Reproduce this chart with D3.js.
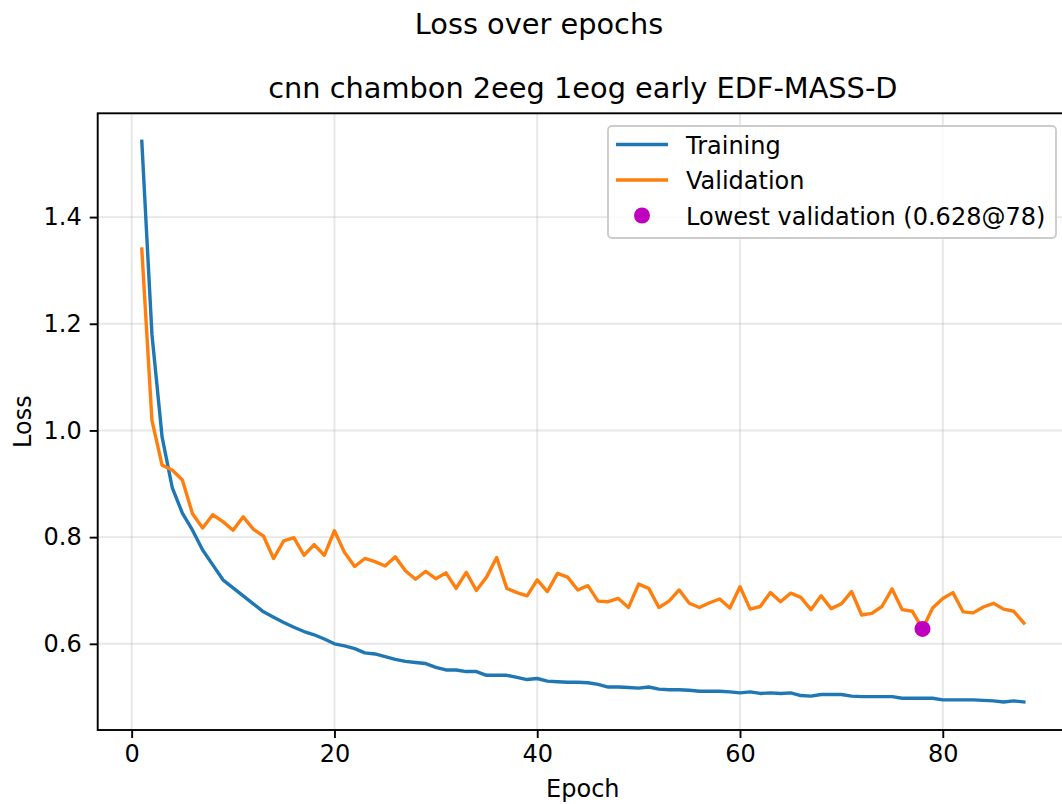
<!DOCTYPE html>
<html>
<head>
<meta charset="utf-8">
<script src="https://cdn.jsdelivr.net/npm/d3@7"></script>
<style>
  body { margin: 0; background: #fff; }
  svg { display: block; font-family: "DejaVu Sans", sans-serif; }
</style>
</head>
<body>
<svg id="chart" width="1062" height="804"></svg>
<script>
// loss per epoch
const training = [1.542, 1.180, 0.988, 0.893, 0.845, 0.813, 0.776, 0.748, 0.720, 0.705,
  0.690, 0.675, 0.660, 0.650, 0.640, 0.631, 0.623, 0.617, 0.609, 0.600,
  0.596, 0.591, 0.583, 0.581, 0.576, 0.571, 0.567, 0.565, 0.563, 0.556,
  0.551, 0.551, 0.548, 0.548, 0.541, 0.541, 0.541, 0.537, 0.533, 0.535,
  0.530, 0.529, 0.528, 0.528, 0.527, 0.524, 0.519, 0.519, 0.518, 0.517,
  0.519, 0.515, 0.514, 0.514, 0.513, 0.511, 0.511, 0.511, 0.510, 0.508,
  0.510, 0.507, 0.508, 0.507, 0.508, 0.503, 0.502, 0.505, 0.505, 0.505,
  0.502, 0.501, 0.501, 0.501, 0.501, 0.498, 0.498, 0.498, 0.498, 0.495,
  0.495, 0.495, 0.495, 0.494, 0.493, 0.491, 0.493, 0.491];

const validation = [1.340, 1.019, 0.935, 0.926, 0.907, 0.844, 0.817, 0.842, 0.829, 0.813,
  0.838, 0.815, 0.802, 0.760, 0.793, 0.799, 0.766, 0.786, 0.766, 0.812,
  0.771, 0.745, 0.760, 0.754, 0.746, 0.763, 0.737, 0.721, 0.736, 0.722,
  0.733, 0.704, 0.734, 0.700, 0.725, 0.762, 0.704, 0.696, 0.690, 0.720,
  0.698, 0.732, 0.725, 0.701, 0.709, 0.680, 0.679, 0.685, 0.668, 0.712,
  0.704, 0.668, 0.680, 0.701, 0.676, 0.668, 0.677, 0.684, 0.667, 0.707,
  0.665, 0.670, 0.696, 0.679, 0.695, 0.687, 0.664, 0.690, 0.666, 0.675,
  0.698, 0.654, 0.657, 0.670, 0.703, 0.664, 0.661, 0.628, 0.667, 0.685,
  0.696, 0.660, 0.658, 0.669, 0.676, 0.665, 0.661, 0.639];

const epochs = training.map((d, i) => i + 1);
const xTicks = [0, 20, 40, 60, 80];
const yTicks = [0.6, 0.8, 1.0, 1.2, 1.4];
const legendLabels = ["Training", "Validation", "Lowest validation"];

const svg = d3.select("#chart");

let plotLeft = 97.7;
let plotRight = 1068;
let plotTop = 113.3;
let plotBottom = 730;

let fontSmall = "24px";
let fontBig = "28.8px";

// matplotlib style 5% margins
const xExt = d3.extent(epochs);
const xPad = (xExt[1] - xExt[0]) * 0.05;
const xScale = d3.scaleLinear().domain([xExt[0] - xPad, xExt[1] + xPad]).range([plotLeft, plotRight]);

const yExt = d3.extent(training.concat(validation));
const yPad = (yExt[1] - yExt[0]) * 0.05;
const yScale = d3.scaleLinear().domain([yExt[0] - yPad, yExt[1] + yPad]).range([plotBottom, plotTop]);

svg.append("clipPath").attr("id", "clip")
  .append("rect").attr("x", plotLeft).attr("y", plotTop)
  .attr("width", plotRight - plotLeft).attr("height", plotBottom - plotTop);

//grid
const grid = svg.append("g").attr("clip-path", "url(#clip)");
grid.selectAll(".gx").data(xTicks).enter().append("line")
  .attr("x1", d => xScale(d)).attr("x2", d => xScale(d))
  .attr("y1", plotTop).attr("y2", plotBottom)
  .attr("stroke", "#b0b0b0").attr("stroke-opacity", 0.3).attr("stroke-width", 1.9);
grid.selectAll(".gy").data(yTicks).enter().append("line")
  .attr("x1", plotLeft).attr("x2", plotRight)
  .attr("y1", d => yScale(d)).attr("y2", d => yScale(d))
  .attr("stroke", "#b0b0b0").attr("stroke-opacity", 0.3).attr("stroke-width", 1.9);

//lines
const line = (vals) => d3.line()
  .x((d, i) => xScale(epochs[i]))
  .y(d => yScale(d))(vals);

const plot = svg.append("g").attr("clip-path", "url(#clip)");
plot.append("path").attr("d", line(training))
  .attr("fill", "none").attr("stroke", "#1f77b4").attr("stroke-width", 3.4)
  .attr("stroke-linejoin", "round").attr("stroke-linecap", "square");
plot.append("path").attr("d", line(validation))
  .attr("fill", "none").attr("stroke", "#ff7f0e").attr("stroke-width", 3.4)
  .attr("stroke-linejoin", "round").attr("stroke-linecap", "square");

// lowest validation point
const minVal = d3.min(validation);
const minEpoch = epochs[validation.indexOf(minVal)];
plot.append("circle")
  .attr("cx", xScale(minEpoch)).attr("cy", yScale(minVal))
  .attr("r", 8).attr("fill", "#bf00bf");

//axes
const xAxis = d3.axisBottom(xScale).tickValues(xTicks).tickSize(8).tickPadding(7).tickFormat(d3.format("d"));
const yAxis = d3.axisLeft(yScale).tickValues(yTicks).tickSize(8).tickPadding(8).tickFormat(d3.format(".1f"));

const gx = svg.append("g").attr("transform", `translate(0,${plotBottom})`).call(xAxis);
const gy = svg.append("g").attr("transform", `translate(${plotLeft},0)`).call(yAxis);
[gx, gy].forEach(g => {
  g.select(".domain").remove();
  g.selectAll(".tick line").attr("stroke", "#000").attr("stroke-width", 1.9);
  g.selectAll(".tick text").attr("fill", "#000").style("font-size", fontSmall)
    .style("font-family", "DejaVu Sans, sans-serif");
});

// spines
svg.append("rect")
  .attr("x", plotLeft).attr("y", plotTop)
  .attr("width", plotRight - plotLeft).attr("height", plotBottom - plotTop)
  .attr("fill", "none").attr("stroke", "#000").attr("stroke-width", 1.9);

//titles
svg.append("text").attr("x", 539).attr("y", 34)
  .attr("text-anchor", "middle").style("font-size", fontBig)
  .text("Loss over epochs");
svg.append("text").attr("x", (plotLeft + plotRight) / 2).attr("y", 98)
  .attr("text-anchor", "middle").style("font-size", fontBig)
  .text("cnn chambon 2eeg 1eog early EDF-MASS-D");
svg.append("text").attr("x", (plotLeft + plotRight) / 2).attr("y", 797)
  .attr("text-anchor", "middle").style("font-size", fontSmall)
  .text("Epoch");
svg.append("text")
  .attr("transform", `translate(31,${(plotTop + plotBottom) / 2}) rotate(-90)`)
  .attr("text-anchor", "middle").style("font-size", fontSmall)
  .text("Loss");

// legend
const legend = svg.append("g").attr("transform", "translate(608,126)");
legend.append("rect")
  .attr("width", 448).attr("height", 112).attr("rx", 4)
  .attr("fill", "#fff").attr("fill-opacity", 0.8)
  .attr("stroke", "#cccccc").attr("stroke-width", 1.9);

const items = [
  { label: legendLabels[0], color: "#1f77b4", kind: "line" },
  { label: legendLabels[1], color: "#ff7f0e", kind: "line" },
  { label: `${legendLabels[2]} (${minVal.toFixed(3)}@${minEpoch})`, color: "#bf00bf", kind: "dot" }
];

items.forEach((it, i) => {
  const cy = 18.5 + i * 35.5;
  if (it.kind === "line") {
    legend.append("line").attr("x1", 8).attr("x2", 60).attr("y1", cy).attr("y2", cy)
      .attr("stroke", it.color).attr("stroke-width", 3.4);
  } else {
    legend.append("circle").attr("cx", 34).attr("cy", cy).attr("r", 8).attr("fill", it.color);
  }
  legend.append("text").attr("x", 78).attr("y", cy + 9)
    .style("font-size", fontSmall).text(it.label);
});
</script>
</body>
</html>
